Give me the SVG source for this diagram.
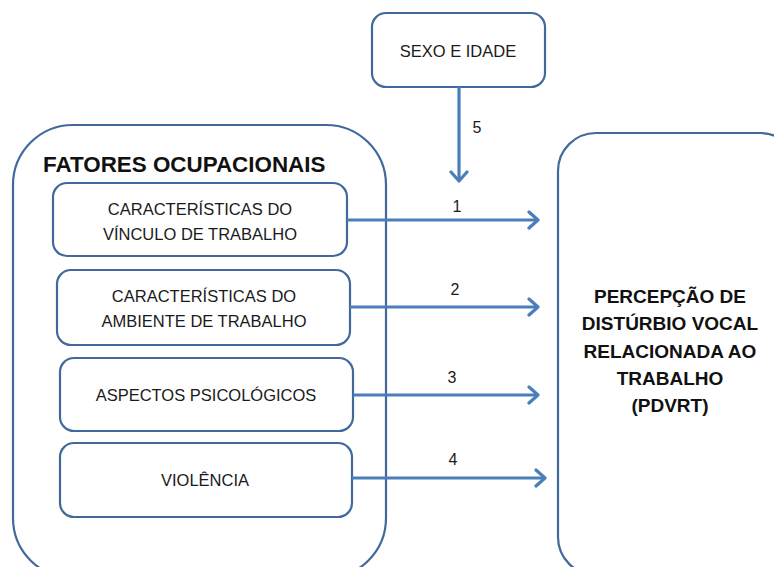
<svg xmlns="http://www.w3.org/2000/svg" width="774" height="567" viewBox="0 0 774 567">
  <style>
    .box { fill: #ffffff; stroke: #41699b; stroke-width: 2.2; }
    .conn { fill: none; stroke: #4a7ebb; stroke-width: 3.2; }
    .lbl { font-family: "Liberation Sans", Arial, sans-serif; font-size: 16.5px; fill: #1a1a1a; text-anchor: middle; }
    .num { font-family: "Liberation Sans", Arial, sans-serif; font-size: 16px; fill: #1a1a1a; text-anchor: middle; }
    .title { font-family: "Liberation Sans", Arial, sans-serif; font-size: 22.4px; font-weight: bold; fill: #111111; }
    .big { font-family: "Liberation Sans", Arial, sans-serif; font-size: 19px; font-weight: bold; fill: #111111; text-anchor: middle; }
  </style>
  <defs>
    <marker id="arr" viewBox="-12 -10 14 20" refX="0" refY="0" markerWidth="14" markerHeight="20" markerUnits="userSpaceOnUse" orient="auto">
      <path d="M-9,-8 L0,0 L-9,8" fill="none" stroke="#4a7ebb" stroke-width="3.2" stroke-linecap="round" stroke-linejoin="round"/>
    </marker>
  </defs>
  <rect width="774" height="567" fill="#ffffff"/>

  <g id="fatores">
    <rect class="box" x="13" y="125" width="373" height="453" rx="60" ry="60"/>
    <text class="title" x="43" y="172">FATORES OCUPACIONAIS</text>
  </g>

  <g id="pdvrt">
    <rect class="box" x="558" y="133" width="240" height="442" rx="38" ry="38"/>
    <text class="big" x="670" y="303">PERCEPÇÃO DE</text>
    <text class="big" x="670" y="330">DISTÚRBIO VOCAL</text>
    <text class="big" x="670" y="358">RELACIONADA AO</text>
    <text class="big" x="670" y="385">TRABALHO</text>
    <text class="big" x="670" y="412">(PDVRT)</text>
  </g>

  <g id="sexo">
    <rect class="box" x="372" y="13" width="173" height="74" rx="14" ry="14"/>
    <text class="lbl" x="458" y="57">SEXO E IDADE</text>
  </g>

  <g id="vinculo">
    <rect class="box" x="53" y="183" width="294" height="73" rx="14" ry="14"/>
    <text class="lbl" x="200" y="215">CARACTERÍSTICAS DO</text>
    <text class="lbl" x="200" y="240">VÍNCULO DE TRABALHO</text>
  </g>

  <g id="ambiente">
    <rect class="box" x="57" y="270" width="293" height="75" rx="14" ry="14"/>
    <text class="lbl" x="204" y="302">CARACTERÍSTICAS DO</text>
    <text class="lbl" x="204" y="327">AMBIENTE DE TRABALHO</text>
  </g>

  <g id="psicologicos">
    <rect class="box" x="60" y="358" width="293" height="73" rx="14" ry="14"/>
    <text class="lbl" x="206" y="401">ASPECTOS PSICOLÓGICOS</text>
  </g>

  <g id="violencia">
    <rect class="box" x="60" y="443" width="292" height="74" rx="14" ry="14"/>
    <text class="lbl" x="205" y="486">VIOLÊNCIA</text>
  </g>

  <g id="connectors">
    <path class="conn" d="M459,87 L459,181" marker-end="url(#arr)"/>
    <text class="num" x="477" y="133">5</text>
    <path class="conn" d="M347,220 L538,220" marker-end="url(#arr)"/>
    <text class="num" x="457" y="212">1</text>
    <path class="conn" d="M350,307 L538,307" marker-end="url(#arr)"/>
    <text class="num" x="455" y="295">2</text>
    <path class="conn" d="M353,395 L538,395" marker-end="url(#arr)"/>
    <text class="num" x="452" y="383">3</text>
    <path class="conn" d="M352,478 L545,478" marker-end="url(#arr)"/>
    <text class="num" x="453" y="465">4</text>
  </g>
</svg>
